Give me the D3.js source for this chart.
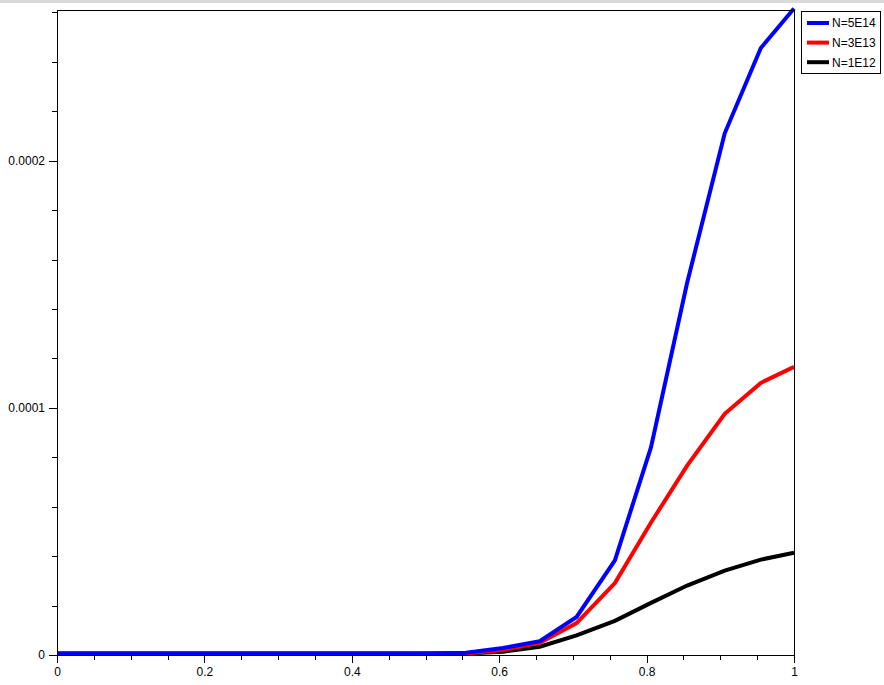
<!DOCTYPE html>
<html>
<head>
<meta charset="utf-8">
<script src="https://cdn.jsdelivr.net/npm/d3@7"></script>
<style>
  html, body { margin: 0; padding: 0; background: #fff; }
  svg { display: block; }
  text { font-family: "Liberation Sans", Arial, sans-serif; font-size: 12px; fill: #000; }
</style>
</head>
<body>
<svg id="chart" width="884" height="685"></svg>
<script>
// ---- data ----
const xs = [0, 0.05, 0.1, 0.15, 0.2, 0.25, 0.3, 0.35, 0.4, 0.45, 0.5,
            0.555, 0.605, 0.655, 0.705, 0.757, 0.806, 0.855, 0.906, 0.955, 1.0];
const blueVals  = [0,0,0,0,0,0,0,0,0,0,0, 3e-7, 2.2e-6, 5.0e-6, 1.48e-5, 3.77e-5, 8.35e-5, 1.50e-4, 2.105e-4, 2.45e-4, 2.61e-4];
const redVals   = [0,0,0,0,0,0,0,0,0,0,0, 0, 1.4e-6, 4.3e-6, 1.23e-5, 2.85e-5, 5.3e-5, 7.6e-5, 9.7e-5, 1.095e-4, 1.16e-4];
const blackVals = [0,0,0,0,0,0,0,0,0,0,0, 0, 0.7e-6, 2.75e-6, 7.3e-6, 1.32e-5, 2.05e-5, 2.75e-5, 3.35e-5, 3.8e-5, 4.08e-5];
const seriesNames = ["N=5E14", "N=3E13", "N=1E12"];
const seriesColors = ["#0000ff", "#ff0000", "#000000"];
const xMajorTicks = [0, 0.2, 0.4, 0.6, 0.8, 1];
const xTickLabels = ["0", "0.2", "0.4", "0.6", "0.8", "1"];
const yMajorTicks = [0, 0.0001, 0.0002];
const yTickLabels = ["0", "0.0001", "0.0002"];
const yMax = 0.000261;

// ---- layout ----
const svg = d3.select("#chart");
const L = 57, R = 794, T = 10, B = 655;

svg.append("rect").attr("x", 0).attr("y", 0).attr("width", 884).attr("height", 3).attr("fill", "#d9d9d9");

const x = d3.scaleLinear().domain([0, 1]).range([L, R]);
const y = d3.scaleLinear().domain([0, yMax]).range([B, T]);

// series lines (drawn black, red, blue so blue is on top)
const seriesVals = [blueVals, redVals, blackVals];
const line = d3.line().x(d => x(d[0])).y(d => y(d[1]));
const lg = svg.append("g").attr("transform", "translate(0,-1.5)");
[2, 1, 0].forEach(i => {
  lg.append("path")
    .datum(xs.map((v, j) => [v, seriesVals[i][j]]))
    .attr("d", line)
    .attr("fill", "none")
    .attr("stroke", seriesColors[i])
    .attr("stroke-width", 4)
    .attr("stroke-linejoin", "miter");
});

// box
svg.append("rect").attr("x", L).attr("y", T).attr("width", R - L).attr("height", B - T)
  .attr("fill", "none").attr("stroke", "#000").attr("stroke-width", 1).attr("shape-rendering", "crispEdges");

// x axis
const xMinor = d3.range(0, 1.0001, 0.05).filter(v => !xMajorTicks.some(m => Math.abs(m - v) < 1e-9));
const xAxisMajor = d3.axisBottom(x).tickValues(xMajorTicks).tickSize(8).tickPadding(4)
  .tickFormat((d, i) => xTickLabels[i]);
const gx = svg.append("g").attr("transform", `translate(0,${B})`).call(xAxisMajor);
const gxm = svg.append("g").attr("transform", `translate(0,${B})`)
  .call(d3.axisBottom(x).tickValues(xMinor).tickSize(5).tickFormat(""));

// y axis
const yMinor = d3.range(0, yMax + 1e-12, 0.00002).filter(v => !yMajorTicks.some(m => Math.abs(m - v) < 1e-12));
const gy = svg.append("g").attr("transform", `translate(${L},0)`)
  .call(d3.axisLeft(y).tickValues(yMajorTicks).tickSize(8).tickPadding(4).tickFormat((d, i) => yTickLabels[i]));
const gym = svg.append("g").attr("transform", `translate(${L},0)`)
  .call(d3.axisLeft(y).tickValues(yMinor).tickSize(5).tickFormat(""));

[gx, gxm, gy, gym].forEach(g => {
  g.select(".domain").remove();
  g.selectAll("line").attr("stroke", "#000").attr("shape-rendering", "crispEdges");
  g.selectAll("text").attr("font-family", "'Liberation Sans', Arial, sans-serif").attr("font-size", 12).attr("fill", "#000");
});

// legend
const lgd = svg.append("g");
lgd.append("rect").attr("x", 801.5).attr("y", 11.5).attr("width", 79).attr("height", 62)
  .attr("fill", "#fff").attr("stroke", "#000").attr("stroke-width", 1);
seriesNames.forEach((n, i) => {
  const yy = 23 + i * 19.6;
  lgd.append("line").attr("x1", 807).attr("x2", 829).attr("y1", yy).attr("y2", yy)
    .attr("stroke", seriesColors[i]).attr("stroke-width", 4);
  lgd.append("text").attr("x", 832).attr("y", yy + 4.3).text(n);
});
</script>
</body>
</html>
